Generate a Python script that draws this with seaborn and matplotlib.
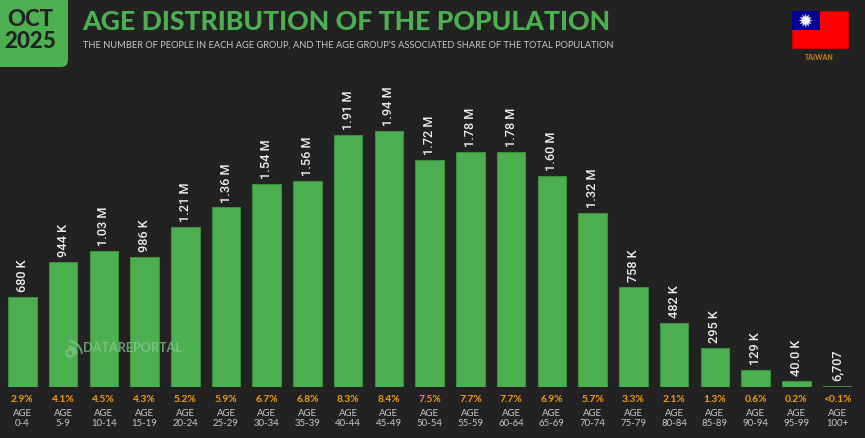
import numpy as np
import pandas as pd
import seaborn as sns
import matplotlib
matplotlib.use("Agg")
import matplotlib.pyplot as plt
from matplotlib.patches import FancyBboxPatch, Rectangle, Circle, Polygon, Wedge

age_groups = ["0-4","5-9","10-14","15-19","20-24","25-29","30-34","35-39","40-44","45-49","50-54",
              "55-59","60-64","65-69","70-74","75-79","80-84","85-89","90-94","95-99","100+"]
population = [680e3,944e3,1.03e6,986e3,1.21e6,1.36e6,1.54e6,1.56e6,1.91e6,1.94e6,1.72e6,
              1.78e6,1.78e6,1.60e6,1.32e6,758e3,482e3,295e3,129e3,40.0e3,6707]
value_labels = ["680 K","944 K","1.03 M","986 K","1.21 M","1.36 M","1.54 M","1.56 M","1.91 M","1.94 M","1.72 M",
                "1.78 M","1.78 M","1.60 M","1.32 M","758 K","482 K","295 K","129 K","40.0 K","6,707"]
shares = ["2.9%","4.1%","4.5%","4.3%","5.2%","5.9%","6.7%","6.8%","8.3%","8.4%","7.5%",
          "7.7%","7.7%","6.9%","5.7%","3.3%","2.1%","1.3%","0.6%","0.2%","<0.1%"]

BG = "#222222"; GREEN = "#4CAF50"; EDGE = "#3C8F41"; ORANGE = "#F39C12"; GREY = "#C8C8C8"
W, H = 865, 438
MAIN = "Lato"

sns.set_theme(style="dark", rc={"axes.facecolor": BG, "figure.facecolor": BG})
plt.rcParams["font.family"] = [MAIN, "DejaVu Sans"]
fig = plt.figure(figsize=(W/100, H/100), dpi=100)

base_px, step, c0 = 386.5, 40.74, 22.3
ax = fig.add_axes([(c0-step/2)/W, (H-base_px)/H, step*21/W, 270/H])
df = pd.DataFrame({"age": age_groups, "pop": population})
sns.barplot(data=df, x="age", y="pop", order=age_groups, color=GREEN, saturation=1,
            width=0.7, edgecolor=EDGE, linewidth=0.8, ax=ax)
ax.set_xlim(-0.5, 20.5)
ax.set_ylim(0, 270/131.7e-6)
ax.set_xlabel(""); ax.set_ylabel("")
ax.set_yticks([])
ax.grid(False)
for s in ax.spines.values():
    s.set_visible(False)
ax.patch.set_alpha(0)
ax.set_xticks(range(21))
ax.set_xticklabels(["AGE\n"+a for a in age_groups], color=GREY, fontsize=6.9, linespacing=1.05)
ax.tick_params(axis="x", length=0, pad=16.5)

for i, (v, lab, sh) in enumerate(zip(population, value_labels, shares)):
    ax.annotate(lab, (i, v), xytext=(0, 3.5), textcoords="offset points", rotation=90,
                ha="center", va="bottom", color="#EDEDED", fontsize=9.2,
                family="Roboto", fontweight="medium")
    ax.annotate(sh, (i, 0), xytext=(0, -9), textcoords="offset points", ha="center", va="center",
                color=ORANGE, fontsize=7.4, fontweight="bold")

ov = fig.add_axes([0, 0, 1, 1], zorder=5)
ov.set_xlim(0, W); ov.set_ylim(H, 0); ov.axis("off"); ov.patch.set_alpha(0)

ov.add_patch(FancyBboxPatch((-20, -20), 88, 87, boxstyle="round,pad=0,rounding_size=7",
                            fc=GREEN, ec="none"))
ov.text(30.5, 19.5, "OCT", ha="center", va="center", fontsize=16, fontweight="black", color=BG)
ov.text(30.5, 42, "2025", ha="center", va="center", fontsize=16, fontweight="black", color=BG)
ov.text(82.5, 22, "AGE DISTRIBUTION OF THE POPULATION", ha="left", va="center",
        fontsize=19.15, fontweight="black", color=GREEN)
ov.text(83, 45.5, "THE NUMBER OF PEOPLE IN EACH AGE GROUP, AND THE AGE GROUP\u2019S ASSOCIATED SHARE OF THE TOTAL POPULATION",
        ha="left", va="center", fontsize=6.7, color=GREY)

# flag
ov.add_patch(Rectangle((792, 11), 55.5, 37, fc="#FE0000", ec="#D80000", lw=0.6))
ov.add_patch(Rectangle((792, 11), 27.5, 19, fc="#000095", ec="none"))
cx, cy = 805.7, 20.5
angs = np.linspace(0, 2*np.pi, 24, endpoint=False)
pts = [(cx+(7 if k % 2 == 0 else 4)*np.cos(a), cy+(7 if k % 2 == 0 else 4)*np.sin(a)) for k, a in enumerate(angs)]
ov.add_patch(Polygon(pts, fc="#D8D8F5", ec="none"))
ov.add_patch(Circle((cx, cy), 3.6, fc="white", ec="none"))
ov.text(819.5, 57.5, "TAIWAN", ha="center", va="center", fontsize=5, fontweight="bold", color="#C98A10")

# watermark
ov.add_patch(Wedge((68, 355), 15, 275, 355, width=2, fc="#8CCB8F", ec="none", alpha=0.7))
ov.add_patch(Wedge((68, 355), 9.5, 275, 355, width=2, fc="#8CCB8F", ec="none", alpha=0.7))
ov.add_patch(Circle((70, 353), 3.6, fc="none", ec="#8CCB8F", lw=1.5, alpha=0.7))
ov.text(83, 348.5, "DATAREPORTAL", ha="left", va="center", fontsize=9.1, fontweight="bold",
        color="#8CCB8F", alpha=0.7)

fig.savefig("out.png", dpi=100, facecolor=BG)
